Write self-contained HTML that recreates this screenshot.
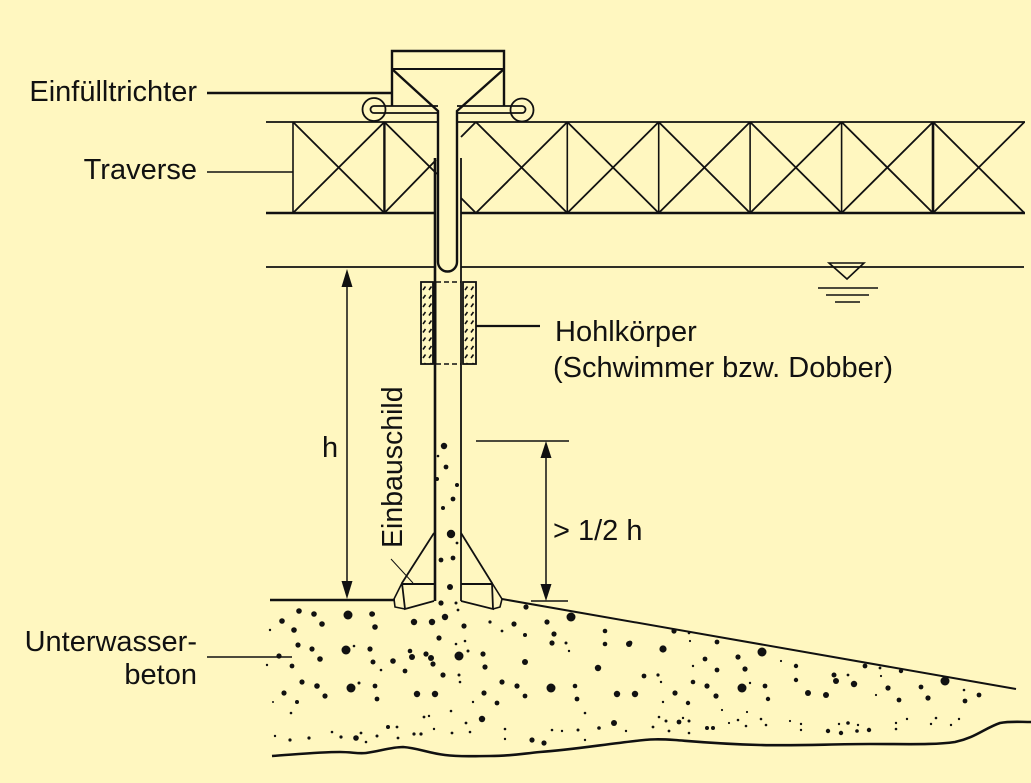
<!DOCTYPE html>
<html><head><meta charset="utf-8"><style>
html,body{margin:0;padding:0;background:#fff7c0;}
svg{display:block;}
text{font-family:"Liberation Sans",Arial,sans-serif;font-size:29px;fill:#111;}
</style></head><body>
<svg width="1031" height="783" viewBox="0 0 1031 783" xmlns="http://www.w3.org/2000/svg">
<defs>
<pattern id="hatch" patternUnits="userSpaceOnUse" width="6" height="8.5" x="421" y="284">
<line x1="2" y1="6" x2="4.5" y2="2.5" stroke="#111" stroke-width="1.6"/>
</pattern>
</defs>
<rect width="1031" height="783" fill="#fff7c0"/>

<g stroke="#111" fill="none" stroke-linecap="butt">
<!-- truss chords -->
<line x1="266" y1="122" x2="437" y2="122" stroke-width="1.8"/>
<line x1="457" y1="122" x2="1025" y2="122" stroke-width="1.8"/>
<line x1="266" y1="213" x2="435" y2="213" stroke-width="2.6"/>
<line x1="461" y1="213" x2="1025" y2="213" stroke-width="2.6"/>
<!-- verticals -->
<line x1="293" y1="122" x2="293" y2="213" stroke-width="1.6"/>
<line x1="384.4" y1="122" x2="384.4" y2="213" stroke-width="2.4"/>
<line x1="567.3" y1="122" x2="567.3" y2="213" stroke-width="1.6"/>
<line x1="658.7" y1="122" x2="658.7" y2="213" stroke-width="1.6"/>
<line x1="750.1" y1="122" x2="750.1" y2="213" stroke-width="1.6"/>
<line x1="841.6" y1="122" x2="841.6" y2="213" stroke-width="1.6"/>
<line x1="933" y1="122" x2="933" y2="213" stroke-width="2.6"/>
<!-- diagonals -->
<g stroke-width="1.8">
<line x1="293" y1="122" x2="384.4" y2="213"/><line x1="293" y1="213" x2="384.4" y2="122"/>
<line x1="384.4" y1="122" x2="437" y2="174"/><line x1="384.4" y1="213" x2="436" y2="160"/>
<line x1="475.9" y1="213" x2="461" y2="198"/><line x1="475.9" y1="122" x2="461" y2="137"/>
<line x1="475.9" y1="122" x2="567.3" y2="213"/><line x1="475.9" y1="213" x2="567.3" y2="122"/>
<line x1="567.3" y1="122" x2="658.7" y2="213"/><line x1="567.3" y1="213" x2="658.7" y2="122"/>
<line x1="658.7" y1="122" x2="750.1" y2="213"/><line x1="658.7" y1="213" x2="750.1" y2="122"/>
<line x1="750.1" y1="122" x2="841.6" y2="213"/><line x1="750.1" y1="213" x2="841.6" y2="122"/>
<line x1="841.6" y1="122" x2="933" y2="213"/><line x1="841.6" y1="213" x2="933" y2="122"/>
<line x1="933" y1="122" x2="1024.4" y2="213"/><line x1="933" y1="213" x2="1024.4" y2="122"/>
</g>

<!-- hopper -->
<path d="M392,106 L392,51 L504,51 L504,106" stroke-width="2.4"/>
<line x1="392" y1="69" x2="504" y2="69" stroke-width="2"/>
<path d="M392,69 L438,111 L438,262 A9.5,9.5 0 0 0 457,262 L457,111 L504,69" stroke-width="2.4"/>
<!-- rails and wheels -->
<path d="M438,106 L374,106 A3.5,3.5 0 0 0 374,113 L438,113" stroke-width="1.8"/>
<path d="M457,106 L522,106 A3.5,3.5 0 0 1 522,113 L457,113" stroke-width="1.8"/>
<circle cx="374" cy="109.5" r="11.5" stroke-width="1.8"/>
<circle cx="522" cy="110" r="11.5" stroke-width="1.8"/>
<!-- leaders -->
<line x1="207" y1="93" x2="392" y2="93" stroke-width="2.6"/>
<line x1="207" y1="172" x2="293" y2="172" stroke-width="1.4"/>
<line x1="207" y1="657" x2="292" y2="657" stroke-width="1.4"/>
<line x1="476" y1="326" x2="540" y2="326" stroke-width="2.2"/>

<!-- outer pipe / Einbauschild -->
<line x1="435" y1="158" x2="435" y2="601" stroke-width="2.6"/>
<line x1="461" y1="158" x2="461" y2="601" stroke-width="1.8"/>

<!-- water line -->
<line x1="266" y1="267" x2="435" y2="267" stroke-width="1.8"/>
<line x1="461" y1="267" x2="1024" y2="267" stroke-width="1.8"/>
<polygon points="829,263 864,263 847,279" stroke-width="1.6"/>
<line x1="818" y1="288" x2="878" y2="288" stroke-width="1.6"/>
<line x1="826" y1="295" x2="869" y2="295" stroke-width="1.6"/>
<line x1="835" y1="302" x2="860" y2="302" stroke-width="1.6"/>

<!-- Hohlkoerper -->
<rect x="421" y="282" width="12" height="82" fill="url(#hatch)" stroke-width="1.8"/>
<rect x="463" y="282" width="13" height="82" fill="url(#hatch)" stroke-width="1.8"/>
<line x1="434.5" y1="282" x2="434.5" y2="364" stroke-width="4"/>
<line x1="436" y1="282" x2="461" y2="282" stroke-width="1.6" stroke-dasharray="5,3"/>
<line x1="436" y1="364" x2="461" y2="364" stroke-width="1.6" stroke-dasharray="5,3"/>

<!-- dimension h -->
<line x1="347" y1="282" x2="347" y2="585" stroke-width="1.5"/>
<!-- dimension > 1/2 h -->
<line x1="476" y1="441" x2="569" y2="441" stroke-width="1.5"/>
<line x1="546" y1="452" x2="546" y2="590" stroke-width="1.5"/>
<line x1="531" y1="601" x2="568" y2="601" stroke-width="1.5"/>

<!-- nozzle -->
<path d="M434,533 L402,583 L405,609 L434,601" stroke-width="1.8"/>
<line x1="402" y1="584" x2="434" y2="584" stroke-width="2"/>
<path d="M402,583 L394,599 L395,607 L405,609" stroke-width="1.6"/>
<path d="M461,533 L492,583 L493,609 L461,601" stroke-width="1.8"/>
<line x1="461" y1="584" x2="492" y2="584" stroke-width="2"/>
<path d="M492,583 L502,599 L500,607 L493,609" stroke-width="1.6"/>
<line x1="391" y1="559" x2="413" y2="583" stroke-width="1"/>

<!-- ground / concrete boundaries -->
<line x1="270" y1="600" x2="395" y2="600" stroke-width="2.6"/>
<line x1="502" y1="599" x2="1016" y2="689" stroke-width="2"/>
<path d="M272,756 C300,754 320,752 340,752 C352,752 358,754 366,753 C380,751 392,747 403,747 C418,748 428,753 445,755 C460,757 470,756 490,756 C510,756 520,754 540,752 C570,750 600,745 635,741 C650,739 660,739 675,740 C700,742 720,744 760,745 C800,746 830,744 870,744 C910,744 935,745 955,742 C975,738 985,728 1000,723 C1010,721 1020,722 1031,722" stroke-width="2.6"/>
</g>

<!-- arrowheads -->
<g fill="#111">
<polygon points="347,269 341.5,287 352.5,287"/>
<polygon points="347,599 341.5,581 352.5,581"/>
<polygon points="546,441 540.5,458 551.5,458"/>
<polygon points="546,601 540.5,584 551.5,584"/>
</g>

<!-- concrete dots -->
<g fill="#111">
<!-- big -->
<circle cx="348" cy="615" r="4.5"/><circle cx="346" cy="650" r="4.5"/><circle cx="351" cy="688" r="4.5"/>
<circle cx="459" cy="656" r="4.5"/><circle cx="571" cy="617" r="4.5"/><circle cx="551" cy="688" r="4.5"/>
<circle cx="762" cy="652" r="4.5"/><circle cx="742" cy="688" r="4.5"/><circle cx="945" cy="681" r="4.5"/>
<circle cx="451" cy="534" r="4.2"/><circle cx="663" cy="649" r="3.6"/><circle cx="444" cy="446" r="3.2"/>
<!-- medium -->
<circle cx="299" cy="611" r="2.8"/><circle cx="314" cy="614" r="2.8"/><circle cx="372" cy="614" r="2.8"/>
<circle cx="282" cy="621" r="2.8"/><circle cx="322" cy="624" r="2.8"/><circle cx="294" cy="630" r="2.8"/>
<circle cx="375" cy="627" r="2.8"/><circle cx="414" cy="622" r="3.2"/><circle cx="432" cy="622" r="3.2"/>
<circle cx="445" cy="617" r="3.2"/><circle cx="441" cy="603" r="2.6"/><circle cx="464" cy="626" r="2.6"/>
<circle cx="514" cy="624" r="2.6"/><circle cx="526" cy="607" r="2.6"/><circle cx="547" cy="622" r="2.6"/>
<circle cx="554" cy="634" r="2.6"/><circle cx="605" cy="631" r="2.3"/><circle cx="629" cy="644" r="3"/>
<circle cx="605" cy="644" r="2.3"/><circle cx="552" cy="643" r="2.6"/><circle cx="525" cy="635" r="2"/>
<circle cx="298" cy="645" r="2.6"/><circle cx="312" cy="649" r="2.6"/><circle cx="370" cy="649" r="2.6"/>
<circle cx="320" cy="659" r="2.8"/><circle cx="373" cy="662" r="2.5"/><circle cx="393" cy="661" r="2.8"/>
<circle cx="412" cy="657" r="3"/><circle cx="410" cy="651" r="2.3"/><circle cx="426" cy="654" r="2.6"/>
<circle cx="431" cy="658" r="3"/><circle cx="433" cy="664" r="2.6"/><circle cx="439" cy="638" r="2.6"/>
<circle cx="483" cy="654" r="2.6"/><circle cx="485" cy="667" r="2.6"/><circle cx="525" cy="662" r="3"/>
<circle cx="598" cy="668" r="3.2"/><circle cx="279" cy="656" r="2.6"/><circle cx="292" cy="666" r="2.4"/>
<circle cx="405" cy="671" r="2.4"/><circle cx="443" cy="675" r="2.6"/><circle cx="302" cy="682" r="2.6"/>
<circle cx="317" cy="686" r="2.8"/><circle cx="375" cy="686" r="2.4"/><circle cx="502" cy="682" r="2.6"/>
<circle cx="517" cy="686" r="2.6"/><circle cx="575" cy="686" r="2.3"/><circle cx="284" cy="693" r="2.6"/>
<circle cx="325" cy="696" r="2.6"/><circle cx="377" cy="699" r="2.4"/><circle cx="417" cy="694" r="3.2"/>
<circle cx="435" cy="694" r="3.2"/><circle cx="484" cy="693" r="2.6"/><circle cx="525" cy="696" r="2.4"/>
<circle cx="577" cy="699" r="2.4"/><circle cx="617" cy="694" r="3.2"/><circle cx="635" cy="694" r="3.2"/>
<circle cx="497" cy="703" r="2.4"/><circle cx="297" cy="702" r="2"/><circle cx="482" cy="719" r="3.2"/>
<circle cx="614" cy="723" r="3"/><circle cx="356" cy="738" r="2.8"/><circle cx="532" cy="740" r="2.6"/>
<circle cx="544" cy="743" r="2.6"/>
<circle cx="674" cy="631" r="2.6"/><circle cx="717" cy="642" r="2.4"/><circle cx="705" cy="659" r="2.4"/>
<circle cx="738" cy="657" r="2.6"/><circle cx="717" cy="670" r="2.4"/><circle cx="745" cy="669" r="2.6"/>
<circle cx="644" cy="676" r="2.4"/><circle cx="693" cy="682" r="2.3"/><circle cx="707" cy="686" r="2.6"/>
<circle cx="675" cy="693" r="2.6"/><circle cx="716" cy="696" r="2.6"/><circle cx="765" cy="686" r="2.4"/>
<circle cx="796" cy="666" r="2.2"/><circle cx="796" cy="680" r="2.2"/><circle cx="768" cy="699" r="2.2"/>
<circle cx="808" cy="693" r="3"/><circle cx="826" cy="695" r="3"/><circle cx="834" cy="675" r="2.5"/>
<circle cx="836" cy="681" r="3"/><circle cx="854" cy="684" r="3.2"/><circle cx="865" cy="666" r="2.4"/>
<circle cx="901" cy="671" r="2.2"/><circle cx="888" cy="688" r="2.6"/><circle cx="899" cy="700" r="2.4"/>
<circle cx="921" cy="687" r="2.4"/><circle cx="928" cy="698" r="2.6"/><circle cx="965" cy="701" r="2.4"/>
<circle cx="979" cy="695" r="2.4"/><circle cx="688" cy="703" r="2.2"/><circle cx="679" cy="722" r="2.4"/>
<circle cx="828" cy="731" r="2.2"/><circle cx="841" cy="733" r="2.2"/><circle cx="848" cy="723" r="1.8"/>
<circle cx="869" cy="730" r="2.2"/><circle cx="857" cy="731" r="1.8"/><circle cx="707" cy="728" r="2"/>
<circle cx="713" cy="728" r="2"/><circle cx="630" cy="643" r="2.4"/>
<!-- pipe -->
<circle cx="446" cy="467" r="2.4"/><circle cx="437" cy="479" r="2"/><circle cx="457" cy="485" r="2"/>
<circle cx="453" cy="499" r="2.4"/><circle cx="443" cy="508" r="2"/><circle cx="441" cy="560" r="2.4"/>
<circle cx="453" cy="558" r="2.4"/><circle cx="450" cy="587" r="3"/><circle cx="373" cy="614" r="2"/>
<circle cx="490" cy="622" r="1.6"/>
<!-- small -->
<circle cx="438" cy="456" r="1.3"/><circle cx="457" cy="543" r="1.4"/><circle cx="456" cy="603" r="1.5"/>
<circle cx="458" cy="610" r="1.4"/><circle cx="502" cy="631" r="1.4"/><circle cx="566" cy="643" r="1.5"/>
<circle cx="569" cy="651" r="1.2"/><circle cx="468" cy="651" r="1.5"/><circle cx="456" cy="644" r="1.3"/>
<circle cx="465" cy="641" r="1.3"/><circle cx="354" cy="646" r="1.3"/><circle cx="381" cy="670" r="1.3"/>
<circle cx="459" cy="675" r="1.5"/><circle cx="460" cy="682" r="1.3"/><circle cx="359" cy="683" r="1.5"/>
<circle cx="270" cy="630" r="1.2"/><circle cx="267" cy="665" r="1.2"/><circle cx="273" cy="702" r="1"/>
<circle cx="291" cy="713" r="1.3"/><circle cx="451" cy="711" r="1.3"/><circle cx="473" cy="702" r="1.2"/>
<circle cx="585" cy="713" r="1.3"/><circle cx="424" cy="717" r="1.4"/><circle cx="429" cy="716" r="1.2"/>
<circle cx="466" cy="723" r="1.4"/><circle cx="470" cy="732" r="1.3"/><circle cx="505" cy="729" r="1.3"/>
<circle cx="552" cy="730" r="1.3"/><circle cx="562" cy="731" r="1.2"/><circle cx="578" cy="730" r="1.5"/>
<circle cx="599" cy="728" r="1.8"/><circle cx="626" cy="731" r="1.2"/><circle cx="585" cy="740" r="1.2"/>
<circle cx="505" cy="739" r="1.2"/><circle cx="452" cy="733" r="1.4"/><circle cx="434" cy="729" r="1.2"/>
<circle cx="275" cy="736" r="1.2"/><circle cx="290" cy="740" r="1.6"/><circle cx="309" cy="738" r="1.6"/>
<circle cx="332" cy="732" r="1.3"/><circle cx="341" cy="737" r="1.6"/><circle cx="361" cy="733" r="1.4"/>
<circle cx="366" cy="742" r="1.3"/><circle cx="377" cy="736" r="1.5"/><circle cx="388" cy="727" r="2"/>
<circle cx="397" cy="727" r="1.4"/><circle cx="398" cy="738" r="1.4"/><circle cx="414" cy="734" r="1.6"/>
<circle cx="421" cy="734" r="1.6"/>
<circle cx="689" cy="633" r="1.3"/><circle cx="690" cy="641" r="1.1"/><circle cx="693" cy="666" r="1.2"/>
<circle cx="658" cy="675" r="1.6"/><circle cx="661" cy="682" r="1.2"/><circle cx="663" cy="702" r="1.2"/>
<circle cx="750" cy="683" r="1.2"/><circle cx="781" cy="661" r="1.1"/><circle cx="848" cy="675" r="1.4"/>
<circle cx="881" cy="676" r="1.1"/><circle cx="880" cy="668" r="1.4"/><circle cx="876" cy="695" r="1.1"/>
<circle cx="964" cy="690" r="1.3"/><circle cx="722" cy="710" r="1.1"/><circle cx="747" cy="712" r="1.1"/>
<circle cx="659" cy="717" r="1.3"/><circle cx="666" cy="721" r="1.5"/><circle cx="689" cy="721" r="1.5"/>
<circle cx="683" cy="718" r="1.2"/><circle cx="653" cy="727" r="1.4"/><circle cx="669" cy="731" r="1.4"/>
<circle cx="689" cy="733" r="1.3"/><circle cx="729" cy="723" r="1.1"/><circle cx="738" cy="720" r="1.3"/>
<circle cx="746" cy="726" r="1.3"/><circle cx="761" cy="719" r="1.3"/><circle cx="766" cy="725" r="1.3"/>
<circle cx="790" cy="721" r="1.1"/><circle cx="801" cy="724" r="1.2"/><circle cx="801" cy="730" r="1.2"/>
<circle cx="896" cy="723" r="1.2"/><circle cx="896" cy="729" r="1.3"/><circle cx="907" cy="719" r="1.2"/>
<circle cx="931" cy="724" r="1.2"/><circle cx="936" cy="718" r="1.3"/><circle cx="951" cy="725" r="1.2"/>
<circle cx="959" cy="719" r="1.2"/><circle cx="858" cy="725" r="1.2"/><circle cx="839" cy="724" r="1.2"/>
</g>

<!-- labels -->
<text x="197" y="101" text-anchor="end">Einfülltrichter</text>
<text x="197" y="179" text-anchor="end">Traverse</text>
<text x="555" y="341">Hohlkörper</text>
<text x="553" y="377">(Schwimmer bzw. Dobber)</text>
<text x="322" y="457">h</text>
<text x="553" y="540">&gt; 1/2 h</text>
<text x="197" y="651" text-anchor="end">Unterwasser-</text>
<text x="197" y="684" text-anchor="end">beton</text>
<text transform="translate(402,548) rotate(-90)" style="font-size:28.5px">Einbauschild</text>
</svg>
</body></html>
